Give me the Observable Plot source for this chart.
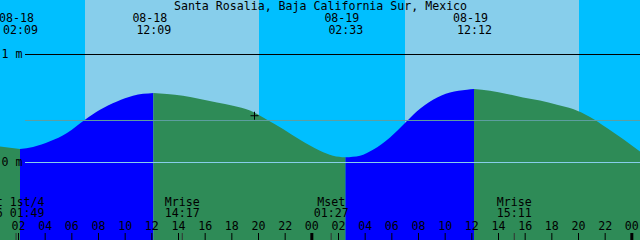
<!DOCTYPE html>
<html>
<head>
<meta charset="utf-8">
<script src="https://cdn.jsdelivr.net/npm/d3@7"></script>
<script src="https://cdn.jsdelivr.net/npm/@observablehq/plot@0.6"></script>
<style>
  html, body { margin: 0; padding: 0; background: #fff; }
  svg { display: block; }
</style>
</head>
<body>
<div id="chart"></div>
<script>
// ---- data (time in hours since 08-18 00:00 local, height in metres) ----
const title = "Santa Rosalia, Baja California Sur, Mexico";

const tideTimes = [0.65, 2.15, 3.125, 4.40, 5.675, 7.025, 8.15, 9.425, 10.625, 12.15,
  13.175, 14.375, 15.65, 16.925, 18.125, 19.40, 20.675, 21.875, 23.15, 24.65,
  25.625, 26.55, 27.65, 28.625, 29.90, 31.025, 31.925, 33.125, 34.40, 35.675, 36.2,
  37.40, 38.675, 39.875, 41.15, 42.425, 43.625, 44.90, 46.175, 47.375, 48.65];
const tideHeights = [0.144, 0.120, 0.139, 0.191, 0.269, 0.392, 0.484, 0.561, 0.614, 0.639,
  0.630, 0.614, 0.583, 0.552, 0.521, 0.478, 0.392, 0.306, 0.206, 0.105,
  0.058, 0.043, 0.058, 0.114, 0.228, 0.361, 0.469, 0.577, 0.644, 0.669, 0.676,
  0.660, 0.630, 0.598, 0.570, 0.531, 0.491, 0.417, 0.315, 0.213, 0.098];

const extremeTimes = [2.15, 12.15, 26.55, 36.2];
const extremeDates = ["08-18", "08-18", "08-19", "08-19"];
const extremeClock = ["02:09", "12:09", "02:33", "12:12"];

const sunriseTimes = [7.025, 31.025];
const sunsetTimes = [20.075, 44.075];

const moonTimes = [1.817, 14.283, 25.45, 39.183];
const moonNames = ["t 1st/4", "Mrise", "Mset", "Mrise"];
const moonClock = ["6 01:49", "14:17", "01:27", "15:11"];

const tickHours = [2, 4, 6, 8, 10, 12, 14, 16, 18, 20, 22, 24,
  26, 28, 30, 32, 34, 36, 38, 40, 42, 44, 46, 48];

const levelValues = [1, 0];
const levelLabels = ["1 m", "0 m"];
const mslLevel = 0.389;

const nowTime = 19.7;
const nowHeight = 0.433;

// ---- derived tables ----
const X0 = 0.65, X1 = 48.65;
const Y0 = -78 / 108, Y1 = 1.5;

const curve = tideTimes.map((t, i) => ({t, h: tideHeights[i]}));
const bounds = [tideTimes[0], ...extremeTimes, tideTimes[tideTimes.length - 1]];
const segs = [];
for (let k = 0; k < bounds.length - 1; k++) {
  const rising = k % 2 === 1;
  for (const p of curve) if (p.t >= bounds[k] && p.t <= bounds[k + 1]) segs.push({...p, seg: k, rising});
}
const days = sunriseTimes.map((r, i) => ({rise: r, set: sunsetTimes[i]}));
const extremes = extremeTimes.map((t, i) => ({t, date: extremeDates[i], clock: extremeClock[i]}));
const moons = moonTimes.map((t, i) => ({t, name: moonNames[i], clock: moonClock[i]}));
const levels = levelValues.map((v, i) => ({v, label: levelLabels[i]}));

const thinPlus = {
  draw(ctx, size) {
    const r = Math.sqrt(size / Math.PI);
    ctx.moveTo(-r, 0); ctx.lineTo(r, 0);
    ctx.moveTo(0, -r); ctx.lineTo(0, r);
  }
};

const chart = Plot.plot({
  width: 640,
  height: 240,
  margin: 0,
  x: {type: "linear", domain: [X0, X1], axis: null},
  y: {type: "linear", domain: [Y0, Y1], axis: null},
  style: {fontFamily: "'DejaVu Sans Mono', monospace", fontSize: "11.6px", background: "#00BFFF", color: "black"},
  marks: [
    Plot.frame({fill: "#00BFFF", stroke: "none"}),
    Plot.rect(days, {x1: "rise", x2: "set", fill: "#87CEEB"}),
    Plot.areaY(segs.filter(d => d.rising), {x: "t", y1: Y0, y2: "h", z: "seg", fill: "#0000FF", curve: "monotone-x"}),
    Plot.areaY(segs.filter(d => !d.rising), {x: "t", y1: Y0, y2: "h", z: "seg", fill: "#2E8B57", curve: "monotone-x"}),
    Plot.ruleY([mslLevel], {stroke: "#5F9EA0", insetLeft: 25}),
    Plot.ruleY([0], {stroke: "#87CEEB", insetLeft: 25}),
    Plot.ruleY([1], {stroke: "black", insetLeft: 25}),
    Plot.text(levels, {y: "v", text: "label", frameAnchor: "left", textAnchor: "start", lineAnchor: "middle", dx: 1}),
    Plot.text([title], {text: d => d, frameAnchor: "top", lineAnchor: "bottom", dy: 9.5}),
    Plot.text(extremes, {x: "t", text: "date", frameAnchor: "top", lineAnchor: "bottom", dy: 21, dx: -4}),
    Plot.text(extremes, {x: "t", text: "clock", frameAnchor: "top", lineAnchor: "bottom", dy: 33.5}),
    Plot.text(moons.slice(0, 1), {x: "t", text: "name", frameAnchor: "bottom", lineAnchor: "bottom", textAnchor: "end", dy: -35, dx: 28.5}),
    Plot.text(moons.slice(0, 1), {x: "t", text: "clock", frameAnchor: "bottom", lineAnchor: "bottom", textAnchor: "end", dy: -24, dx: 28.5}),
    Plot.text(moons.slice(1), {x: "t", text: "name", frameAnchor: "bottom", lineAnchor: "bottom", dy: -35}),
    Plot.text(moons.slice(1), {x: "t", text: "clock", frameAnchor: "bottom", lineAnchor: "bottom", dy: -24}),
    Plot.text(tickHours, {x: d => d, text: d => String(d % 24).padStart(2, "0"), frameAnchor: "bottom", lineAnchor: "bottom", dy: -10.5}),
    Plot.ruleX(tickHours.filter(d => d % 24 !== 0), {x: d => d, insetTop: 233, stroke: "black"}),
    Plot.ruleX(tickHours.filter(d => d % 24 === 0), {x: d => d, insetTop: 233, stroke: "black", strokeWidth: 3}),
    Plot.ruleX(moons, {x: "t", insetTop: 233, stroke: "#333"}),
    Plot.dot([{t: nowTime, h: nowHeight}], {x: "t", y: "h", symbol: thinPlus, r: 4, stroke: "black", fill: "none", strokeWidth: 1})
  ]
});
document.getElementById("chart").append(chart);
</script>
</body>
</html>
